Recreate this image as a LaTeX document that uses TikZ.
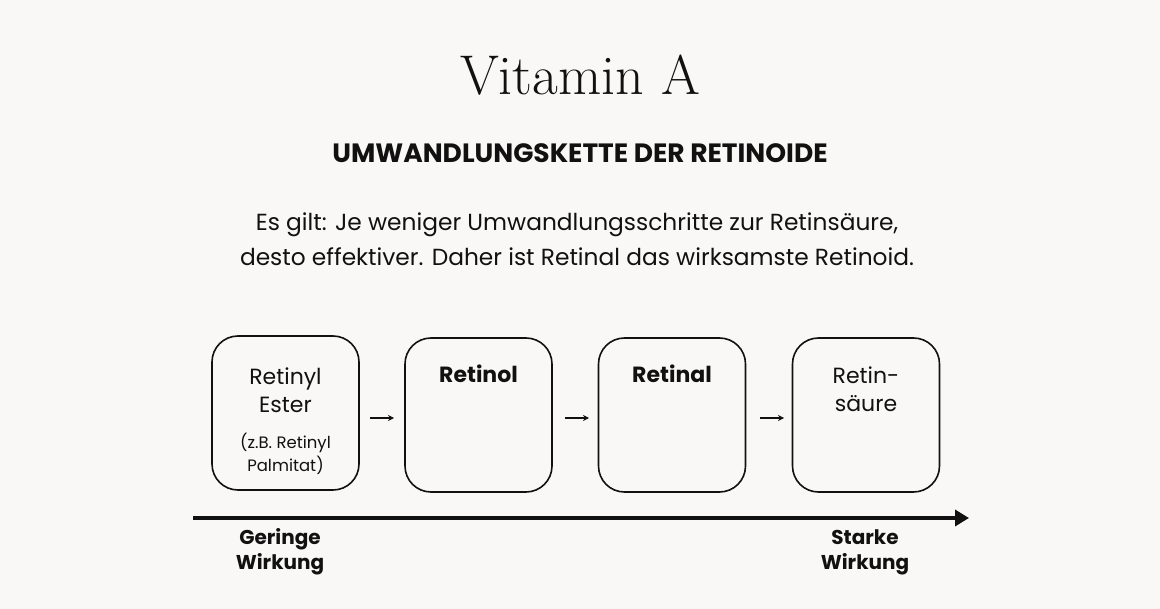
\documentclass[tikz,border=0pt]{standalone}
\usepackage{fontspec}
\setsansfont{Poppins}
\usetikzlibrary{arrows.meta}
\definecolor{bg}{HTML}{FAF8F6}
\definecolor{ink}{HTML}{111111}
\begin{document}
\begin{tikzpicture}[x=1pt,y=-1pt,
  box/.style={draw=ink,line width=1.6pt,rounded corners=26pt,minimum width=147pt,minimum height=154pt},
  txt/.style={font=\sffamily\fontsize{22}{28}\selectfont,text=ink,align=center},
  small/.style={font=\sffamily\fontsize{16.5}{23}\selectfont,text=ink,align=center},
  lab/.style={font=\sffamily\bfseries\fontsize{20}{25}\selectfont,text=ink,align=center},
  sa/.style={-{Stealth[length=6pt,width=6pt]},line width=1.2pt,draw=ink}]
\fill[bg] (0,0) rectangle (1160,609);
\useasboundingbox (0,0) rectangle (1160,609);
\node[font=\fontsize{56}{64}\selectfont,text=ink] (title) at (580,75) {Vitamin A};
\node[font=\sffamily\bfseries\fontsize{26.5}{30}\selectfont,text=ink] (sub) at (580,153) {UMWANDLUNGSKETTE DER RETINOIDE};
\node[font=\sffamily\fontsize{23.3}{35}\selectfont,text=ink,align=center] (para) at (577,239) {Es gilt: Je weniger Umwandlungsschritte zur Retinsäure,\\desto effektiver. Daher ist Retinal das wirksamste Retinoid.};
\node[box] (b1) at (285.5,413) {};
\node[box] (b2) at (478.5,415) {};
\node[box] (b3) at (672,415) {};
\node[box] (b4) at (866,415) {};
\node[txt] (t1) at (285.5,390) {Retinyl\\Ester};
\node[small] (t1s) at (285.5,454) {(z.B. Retinyl\\Palmitat)};
\node[txt,font=\sffamily\bfseries\fontsize{22}{28}\selectfont] (t2) at (478.5,374) {Retinol};
\node[txt,font=\sffamily\bfseries\fontsize{22}{28}\selectfont] (t3) at (672,374) {Retinal};
\node[txt] (t4) at (866,389) {Retin-\\säure};
\coordinate (a1s) at (370,418); \coordinate (a1e) at (394,418);
\coordinate (a2s) at (565,418); \coordinate (a2e) at (589,418);
\coordinate (a3s) at (760,418); \coordinate (a3e) at (784,418);
\draw[sa] (a1s) -- (a1e);
\draw[sa] (a2s) -- (a2e);
\draw[sa] (a3s) -- (a3e);
\coordinate (ax0) at (193,518); \coordinate (ax1) at (969,518);
\draw[line width=4pt,draw=ink,-{Triangle[length=14pt,width=16pt]}] (ax0) -- (ax1);
\node[lab] (l1) at (280,552) {Geringe\\Wirkung};
\node[lab] (l2) at (865,552) {Starke\\Wirkung};
\end{tikzpicture}
\end{document}
